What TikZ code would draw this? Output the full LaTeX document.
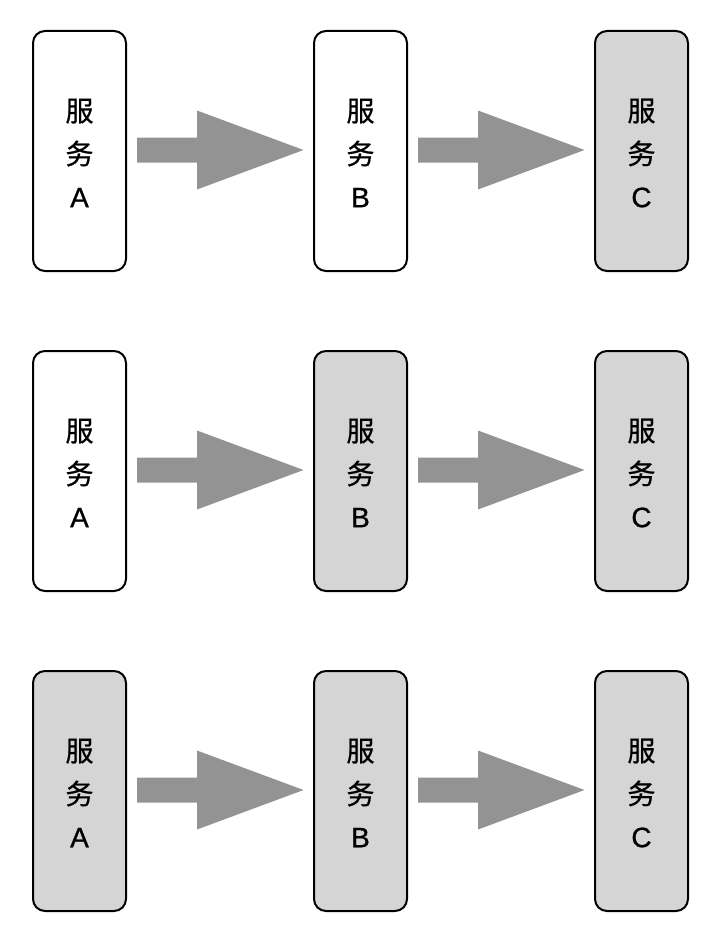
\documentclass[tikz,border=0pt]{standalone}
\usepackage{fontspec}
\newfontfamily\cjkf{Noto Sans CJK SC}[FakeBold=0.8]
\newfontfamily\latinf{Liberation Sans}[FakeBold=0.8]
\definecolor{boxgray}{HTML}{D5D5D5}
\definecolor{arrgray}{HTML}{939393}
\tikzset{
  svc/.style={draw=black, line width=2pt, rounded corners=12pt, minimum width=93pt, minimum height=240pt, inner sep=0pt},
  on/.style={svc, fill=boxgray},
  off/.style={svc, fill=white},
  lbl/.style={align=center, inner sep=0pt, font=\fontsize{28}{43}\selectfont\cjkf}
}
\newcommand{\fatarrow}[2]{% x start, y center
  \fill[arrgray] (#1,#2-12.5) -- (#1+60,#2-12.5) -- (#1+60,#2-39.5) -- (#1+166.5,#2) -- (#1+60,#2+39.5) -- (#1+60,#2+12.5) -- (#1,#2+12.5) -- cycle;
}
\begin{document}
\begin{tikzpicture}[x=1pt,y=-1pt]
\useasboundingbox (0,0) rectangle (716,950);
% row 1
\node[off] (a1) at (79.5,151) {};
\node[off] (b1) at (360.5,151) {};
\node[on]  (c1) at (641.5,151) {};
% row 2
\node[off] (a2) at (79.5,471) {};
\node[on]  (b2) at (360.5,471) {};
\node[on]  (c2) at (641.5,471) {};
% row 3
\node[on] (a3) at (79.5,791) {};
\node[on] (b3) at (360.5,791) {};
\node[on] (c3) at (641.5,791) {};
\foreach \n/\l in {a1/A,b1/B,c1/C,a2/A,b2/B,c2/C,a3/A,b3/B,c3/C}{
  \node[lbl] (t\n) at ([yshift=-2pt]\n.center) {服\\务\\{\latinf\l}};
}
\foreach \y in {150,470,790}{
  \fatarrow{137}{\y}
  \fatarrow{418}{\y}
}
\end{tikzpicture}
\end{document}
